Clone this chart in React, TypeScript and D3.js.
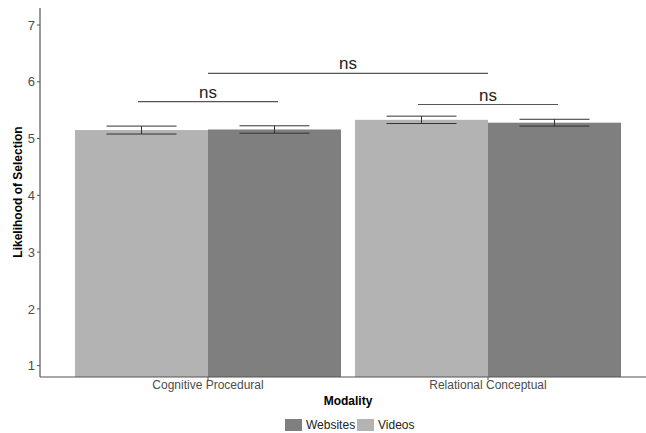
import React from "react";
import * as d3 from "d3";

const categories = ["Cognitive Procedural", "Relational Conceptual"];
const seriesNames = ["Videos", "Websites"];
const videosMeans = [5.15, 5.33];
const websitesMeans = [5.16, 5.28];
const videosErr = [0.07, 0.065];
const websitesErr = [0.065, 0.06];
const yTicks = [1, 2, 3, 4, 5, 6, 7];
const legendOrder = ["Websites", "Videos"];

const colors: Record<string, string> = { Videos: "#b3b3b3", Websites: "#7f7f7f" };

export default function App() {
  const W = 646, H = 433;
  const left = 40, top = 8, bottom = 377;
  const unit = 280;
  const x = d3.scaleLinear().domain([0.4, 2.6]).range([left, left + 2.2 * unit]);
  const y = d3.scaleLinear().domain([0.8, 7.3]).range([bottom, top]);
  const dodge = 0.95;
  const barW = dodge / 2;

  const series = [
    { name: "Videos", means: videosMeans, errs: videosErr, off: -barW / 2 },
    { name: "Websites", means: websitesMeans, errs: websitesErr, off: barW / 2 },
  ];

  const brackets = [
    { x1: x(1 - 0.25), x2: x(1 + 0.25), yv: 5.65, label: "ns" },
    { x1: x(2 - 0.25), x2: x(2 + 0.25), yv: 5.6, label: "ns" },
    { x1: x(1), x2: x(2), yv: 6.15, label: "ns" },
  ];

  const legendX: Record<string, number> = { Websites: 285, Videos: 357 };

  return (
    <svg width={W} height={H} style={{ position: "absolute", left: 0, top: 0, background: "#fff" }}
      fontFamily="Liberation Sans, Arial, sans-serif">
      {series.map((s) =>
        categories.map((c, i) => {
          const cx = x(i + 1 + s.off);
          const x0 = cx - (barW / 2) * unit;
          return (
            <rect key={s.name + c} x={x0} width={barW * unit} y={y(s.means[i])}
              height={bottom - y(s.means[i])} fill={colors[s.name]} />
          );
        })
      )}
      {series.map((s) =>
        categories.map((c, i) => {
          const cx = x(i + 1 + s.off);
          const hw = 0.125 * unit;
          const yt = y(s.means[i] + s.errs[i]);
          const yb = y(s.means[i] - s.errs[i]);
          return (
            <g key={"e" + s.name + c} stroke="#333" strokeWidth={1}>
              <line x1={cx - hw} x2={cx + hw} y1={yt} y2={yt} />
              <line x1={cx - hw} x2={cx + hw} y1={yb} y2={yb} />
              <line x1={cx} x2={cx} y1={yt} y2={yb} />
            </g>
          );
        })
      )}
      {brackets.map((b, i) => (
        <g key={"b" + i}>
          <line x1={b.x1} x2={b.x2} y1={y(b.yv)} y2={y(b.yv)} stroke="#555" strokeWidth={1.2} />
          <text x={(b.x1 + b.x2) / 2} y={y(b.yv) - 4} textAnchor="middle" fontSize={17} fill="#222">
            {b.label}
          </text>
        </g>
      ))}
      <line x1={left} x2={W} y1={bottom} y2={bottom} stroke="#555" strokeWidth={1.2} />
      <line x1={left} x2={left} y1={top} y2={bottom} stroke="#555" strokeWidth={1.2} />
      {yTicks.map((t) => (
        <g key={"yt" + t}>
          <line x1={left - 3} x2={left} y1={y(t)} y2={y(t)} stroke="#555" />
          <text x={left - 5} y={y(t)} dy="0.36em" textAnchor="end" fontSize={13} fill="#4d4d4d">{t}</text>
        </g>
      ))}
      {categories.map((c, i) => (
        <g key={"xt" + c}>
          <line x1={x(i + 1)} x2={x(i + 1)} y1={bottom} y2={bottom + 3} stroke="#555" />
          <text x={x(i + 1)} y={bottom + 12} textAnchor="middle" fontSize={12} fill="#4d4d4d">{c}</text>
        </g>
      ))}
      <text x={348} y={405} textAnchor="middle" fontSize={12} fontWeight="bold" fill="#000">Modality</text>
      <text transform={`translate(22,192) rotate(-90)`} textAnchor="middle" fontSize={12} fontWeight="bold" fill="#000">
        Likelihood of Selection
      </text>
      {legendOrder.map((n) => (
        <g key={"lg" + n}>
          <rect x={legendX[n]} y={419} width={17} height={12} fill={colors[n]} />
          <text x={legendX[n] + 21} y={429} fontSize={12} fill="#222">{n}</text>
        </g>
      ))}
    </svg>
  );
}
